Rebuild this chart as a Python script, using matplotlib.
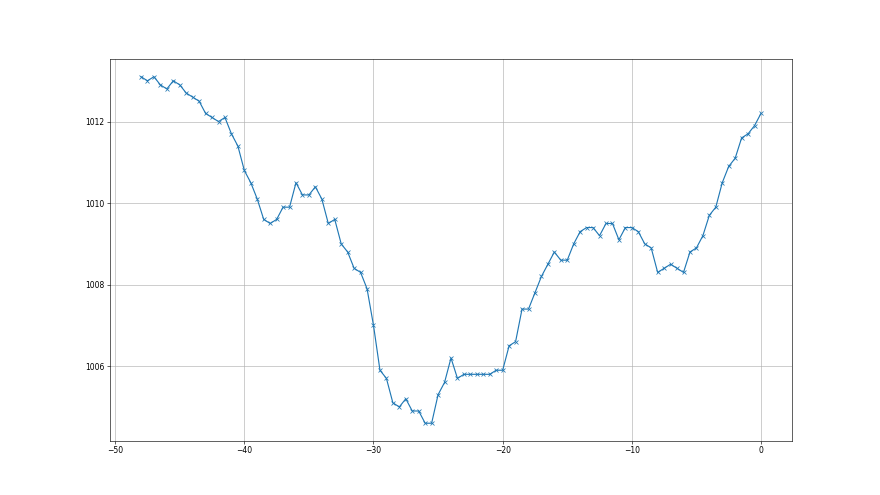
import numpy as np
import matplotlib
matplotlib.use("Agg")
import matplotlib.pyplot as plt

# hours relative to now, 30-minute steps
hours = np.arange(-48, 0.25, 0.5)

pressure = [
    1013.1, 1013.0, 1013.1, 1012.9, 1012.8, 1013.0, 1012.9, 1012.7, 1012.6, 1012.5,
    1012.2, 1012.1, 1012.0, 1012.1, 1011.7, 1011.4, 1010.8, 1010.5, 1010.1, 1009.6,
    1009.5, 1009.6, 1009.9, 1009.9, 1010.5, 1010.2, 1010.2, 1010.4, 1010.1, 1009.5,
    1009.6, 1009.0, 1008.8, 1008.4, 1008.3, 1007.9, 1007.0, 1005.9, 1005.7, 1005.1,
    1005.0, 1005.2, 1004.9, 1004.9, 1004.6, 1004.6, 1005.3, 1005.6, 1006.2, 1005.7,
    1005.8, 1005.8, 1005.8, 1005.8, 1005.8, 1005.9, 1005.9, 1006.5, 1006.6, 1007.4,
    1007.4, 1007.8, 1008.2, 1008.5, 1008.8, 1008.6, 1008.6, 1009.0, 1009.3, 1009.4,
    1009.4, 1009.2, 1009.5, 1009.5, 1009.1, 1009.4, 1009.4, 1009.3, 1009.0, 1008.9,
    1008.3, 1008.4, 1008.5, 1008.4, 1008.3, 1008.8, 1008.9, 1009.2, 1009.7, 1009.9,
    1010.5, 1010.9, 1011.1, 1011.6, 1011.7, 1011.9, 1012.2,
]

fig = plt.figure(figsize=(16, 9), dpi=55)
ax = fig.add_subplot(111)
ax.plot(hours, pressure, marker='x', color='#1f77b4')
ax.set_yticks([1006, 1008, 1010, 1012])
ax.grid(True)

plt.savefig('out.png', dpi=55)
